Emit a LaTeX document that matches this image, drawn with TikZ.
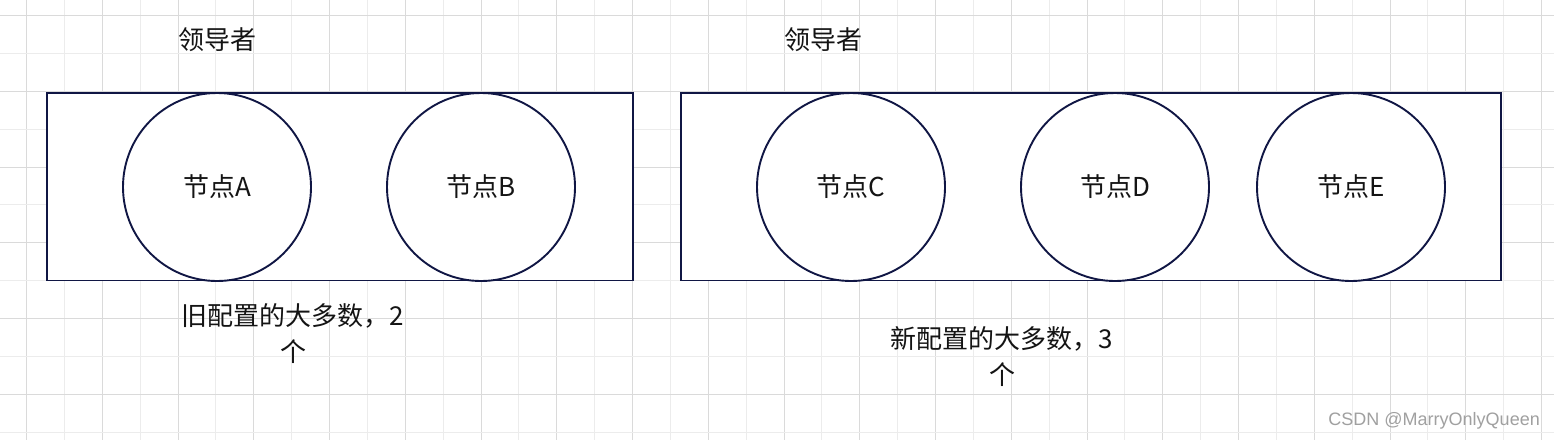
\documentclass[tikz,border=0pt]{standalone}
\usepackage{fontspec}
\setmainfont{Noto Sans CJK SC}
\newfontfamily\wmfont{Liberation Sans}
\definecolor{navy}{RGB}{16,22,68}
\definecolor{gridmaj}{RGB}{218,218,218}
\definecolor{gridmin}{RGB}{236,236,236}
\definecolor{wm}{RGB}{160,160,160}
\definecolor{txt}{RGB}{20,20,20}
\begin{document}
\begin{tikzpicture}[x=1pt,y=-1pt,
  box/.style={draw=navy,line width=1.9pt},
  nodecirc/.style={circle,draw=navy,line width=1.9pt,minimum size=188pt,inner sep=0pt,font=\fontsize{26}{30}\selectfont,text=txt},
  lbl/.style={font=\fontsize{26}{36}\selectfont,text=txt,align=center,inner sep=0pt}]
\useasboundingbox (0,0) rectangle (1554,440);
\fill[white] (0,0) rectangle (1554,440);
% grid
\foreach \k in {0,...,40}{
  \pgfmathsetmacro{\xx}{round(26+37.875*\k)+0.5}
  \pgfmathtruncatemacro{\ev}{mod(\k,2)}
  \ifnum\ev=0 \draw[gridmaj,line width=1.6pt] (\xx,0) -- (\xx,440);
  \else \draw[gridmin,line width=1.6pt] (\xx,0) -- (\xx,440); \fi
}
\foreach \k in {0,...,11}{
  \pgfmathsetmacro{\yy}{round(15+37.875*\k)+0.5}
  \pgfmathtruncatemacro{\ev}{mod(\k,2)}
  \ifnum\ev=0 \draw[gridmaj,line width=1.6pt] (0,\yy) -- (1554,\yy);
  \else \draw[gridmin,line width=1.6pt] (0,\yy) -- (1554,\yy); \fi
}
% left group
\fill[white] (47,93) rectangle (633,280.5);
\draw[box] (47,93) rectangle (633,280.5);
\node[nodecirc,fill=white] (A) at (217,187) {节点A};
\node[nodecirc,fill=white] (B) at (481,187) {节点B};
\node[lbl] (L1) at (217,40) {领导者};
\node[lbl] (M1) at (293,334) {旧配置的大多数，2\\个};
% right group
\fill[white] (681,93) rectangle (1501,280.5);
\draw[box] (681,93) rectangle (1501,280.5);
\node[nodecirc,fill=white] (C) at (851,187) {节点C};
\node[nodecirc,fill=white] (D) at (1115,187) {节点D};
\node[nodecirc,fill=white] (E) at (1351,187) {节点E};
\node[lbl] (L2) at (823,40) {领导者};
\node[lbl] (M2) at (1002,357) {新配置的大多数，3\\个};
% watermark
\node[font=\wmfont\fontsize{18}{20}\selectfont,text=wm,anchor=east,inner sep=0pt] (W) at (1540,421) {CSDN @MarryOnlyQueen};
\end{tikzpicture}
\end{document}
